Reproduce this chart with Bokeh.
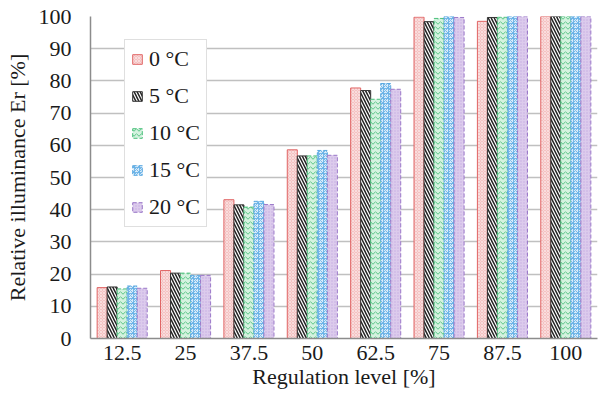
from bokeh.plotting import figure
from bokeh.models import ColumnDataSource, FactorRange, Range1d, FixedTicker, Legend, LegendItem
from bokeh.transform import dodge
from bokeh.embed import file_html
from bokeh.resources import INLINE

levels = ["12.5", "25", "37.5", "50", "62.5", "75", "87.5", "100"]
series_names = ["0 °C", "5 °C", "10 °C", "15 °C", "20 °C"]
t0 = [15.8, 21.1, 43.1, 58.6, 77.8, 99.8, 98.5, 100.0]
t5 = [16.0, 20.3, 41.5, 56.7, 77.0, 98.4, 99.7, 100.0]
t10 = [15.4, 20.3, 40.8, 56.7, 74.3, 99.4, 99.8, 100.0]
t15 = [16.3, 19.6, 42.6, 58.4, 79.2, 100.0, 100.0, 100.0]
t20 = [15.6, 19.6, 41.6, 56.9, 77.4, 99.7, 100.0, 100.0]
y_ticks = [0, 10, 20, 30, 40, 50, 60, 70, 80, 90, 100]
x_title = "Regulation level [%]"
y_title = "Relative illuminance Er [%]"

FONT = "Liberation Serif"
TXT = "#1a1a1a"

src = ColumnDataSource(dict(cat=levels, t0=t0, t5=t5, t10=t10, t15=t15, t20=t20))

p = figure(x_range=FactorRange(*levels), y_range=Range1d(0, 100),
           width=599, height=405, output_backend="svg", toolbar_location=None,
           min_border_left=90, min_border_right=2, min_border_top=16, min_border_bottom=67)
p.outline_line_color = None
p.background_fill_color = "white"
p.border_fill_color = "white"

bw = 0.158
styles = [
    dict(col="t0", fill_color="#f4c2c2", line_color="#e06464", line_dash="solid",
         hatch_pattern="x", hatch_color="white", hatch_alpha=0.55, hatch_scale=3, hatch_weight=0.8),
    dict(col="t5", fill_color="white", line_color="#333333", line_dash="solid",
         hatch_pattern="\\", hatch_color="#222222", hatch_alpha=1.0, hatch_scale=6, hatch_weight=1.5),
    dict(col="t10", fill_color="#d4f2df", line_color="#4cc07c", line_dash="4 2",
         hatch_pattern="v", hatch_color="#4cc07c", hatch_alpha=0.9, hatch_scale=5, hatch_weight=1.0),
    dict(col="t15", fill_color="#d8ebf9", line_color="#5aa8e0", line_dash="4 2",
         hatch_pattern="*", hatch_color="#6ab2e8", hatch_alpha=0.9, hatch_scale=5, hatch_weight=1.0),
    dict(col="t20", fill_color="#dccbec", line_color="#9a78c8", line_dash="4 2",
         hatch_pattern=".", hatch_color="#c4ace0", hatch_alpha=1.0, hatch_scale=3, hatch_weight=1.0),
]
offsets = [-2 * bw, -bw, 0, bw, 2 * bw]

items = []
for name, st, off in zip(series_names, styles, offsets):
    r = p.vbar(x=dodge("cat", off, range=p.x_range), top=st["col"], width=bw, source=src,
               fill_color=st["fill_color"], line_color=st["line_color"], line_width=1,
               line_dash=st["line_dash"], hatch_pattern=st["hatch_pattern"],
               hatch_color=st["hatch_color"], hatch_alpha=st["hatch_alpha"],
               hatch_scale=st["hatch_scale"], hatch_weight=st["hatch_weight"])
    items.append(LegendItem(label=name, renderers=[r]))

legend = Legend(items=items, location=(34, 111))
legend.label_text_font = FONT
legend.label_text_font_size = "22px"
legend.label_text_color = TXT
legend.glyph_width = 12
legend.glyph_height = 12
legend.label_standoff = 6
legend.label_height = 26
legend.spacing = 11
legend.padding = 6
legend.margin = 0
legend.border_line_color = "#bfbfbf"
legend.border_line_width = 1
legend.background_fill_color = "white"
legend.background_fill_alpha = 1.0
p.add_layout(legend)

# grid
p.xgrid.grid_line_color = None
p.ygrid.grid_line_color = "#c0c0c0"
p.ygrid.grid_line_width = 1.5
p.yaxis.ticker = FixedTicker(ticks=y_ticks)

for ax in (p.xaxis, p.yaxis):
    ax.major_tick_line_color = None
    ax.minor_tick_line_color = None
    ax.major_tick_out = 0
    ax.major_tick_in = 0
    ax.major_label_text_font = FONT
    ax.major_label_text_font_size = "22px"
    ax.major_label_text_color = TXT
    ax.axis_label_text_font = FONT
    ax.axis_label_text_font_size = "22px"
    ax.axis_label_text_font_style = "normal"
    ax.axis_label_text_color = TXT
    ax.axis_line_color = "#8c8c8c"
    ax.axis_line_width = 1.5

p.yaxis.axis_label = y_title
p.yaxis.major_label_standoff = 19
p.yaxis.axis_label_standoff = 6
p.xaxis.axis_label = x_title
p.xaxis.major_label_standoff = 7
p.xaxis.axis_label_standoff = 1

open("out.html", "w").write(file_html(p, INLINE))
